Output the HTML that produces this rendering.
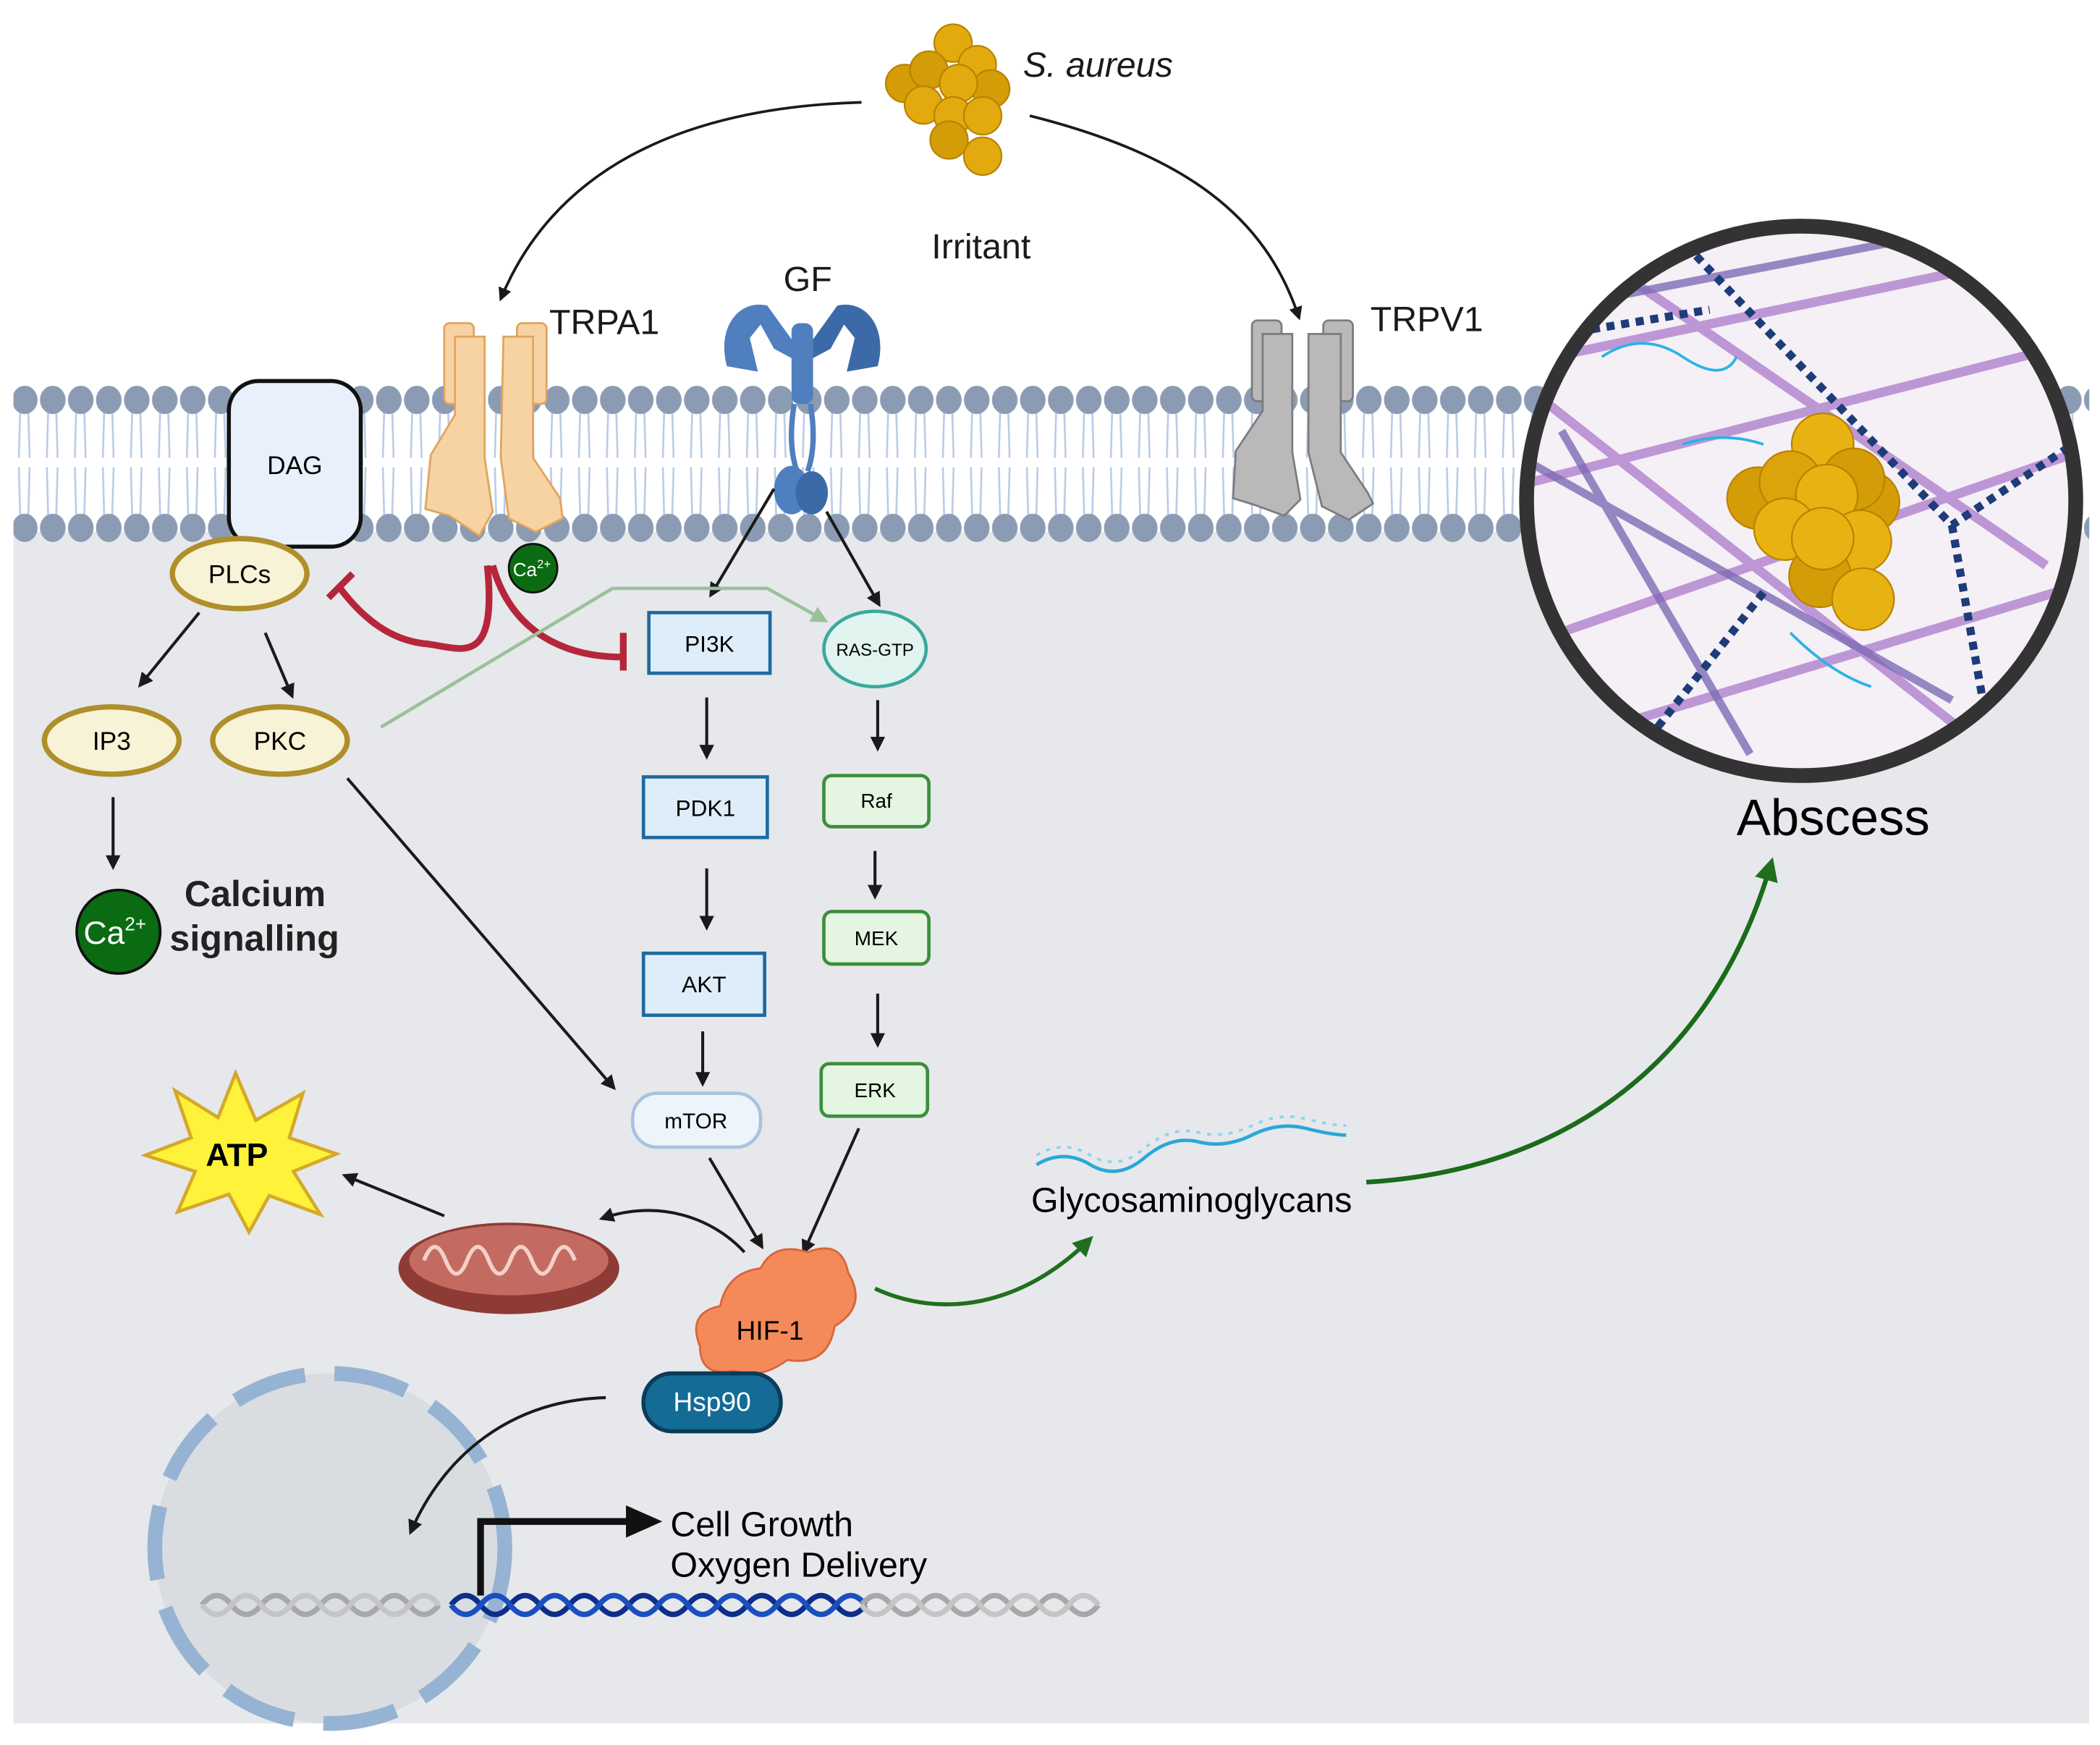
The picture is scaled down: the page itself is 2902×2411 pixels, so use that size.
<!DOCTYPE html>
<html><head><meta charset="utf-8"><style>
html,body{margin:0;padding:0;background:#fff;}
svg{display:block;}
text{font-family:"Liberation Sans",sans-serif;}
</style></head><body>
<svg width="2902" height="2411" viewBox="0 0 1560 1296" preserveAspectRatio="none" xmlns="http://www.w3.org/2000/svg">
<defs>
<marker id="ab" viewBox="0 0 10 10" refX="8" refY="5" markerWidth="5" markerHeight="5" orient="auto"><path d="M0,0L10,5L0,10z" fill="#1a1a1a"/></marker>
<marker id="ag" viewBox="0 0 10 10" refX="8" refY="5" markerWidth="5" markerHeight="5" orient="auto"><path d="M0,0L10,5L0,10z" fill="#1f6f1f"/></marker>
<marker id="alg" viewBox="0 0 10 10" refX="8" refY="5" markerWidth="5" markerHeight="5" orient="auto"><path d="M0,0L10,5L0,10z" fill="#9cbf9c"/></marker>
<pattern id="tl1" x="8" y="305" width="20.8" height="35" patternUnits="userSpaceOnUse">
<path d="M7 0 L6 35 M13 0 L14 35" stroke="#b8cce6" stroke-width="1.4" fill="none"/></pattern>
<pattern id="tl2" x="8" y="347" width="20.8" height="36" patternUnits="userSpaceOnUse">
<path d="M6 0 L7 36 M14 0 L13 36" stroke="#b8cce6" stroke-width="1.4" fill="none"/></pattern>
<pattern id="hd1" x="8" y="286" width="20.8" height="24" patternUnits="userSpaceOnUse">
<ellipse cx="10.4" cy="11" rx="9.5" ry="10.5" fill="#8a9bb3"/></pattern>
<pattern id="hd2" x="8" y="381" width="20.8" height="24" patternUnits="userSpaceOnUse">
<ellipse cx="10.4" cy="11" rx="9.5" ry="10.5" fill="#8a9bb3"/></pattern>
<clipPath id="cc"><circle cx="1338" cy="372" r="200"/></clipPath>
</defs>
<rect width="1560" height="1296" fill="#fff"/>
<rect x="10" y="395" width="1542" height="885" fill="#e6e8eb"/>
<!-- membrane -->
<rect x="10" y="290" width="1542" height="105" fill="#fff"/>
<rect x="10" y="305" width="1542" height="35" fill="url(#tl1)"/>
<rect x="10" y="347" width="1542" height="36" fill="url(#tl2)"/>
<rect x="10" y="286" width="1542" height="22" fill="url(#hd1)"/>
<rect x="10" y="381" width="1542" height="22" fill="url(#hd2)"/>

<!-- S. aureus -->
<g fill="#e3aa10" stroke="#b88300" stroke-width="1.2">
<circle cx="708" cy="32" r="14"/><circle cx="672" cy="62" r="14" fill="#d49c07"/><circle cx="690" cy="52" r="14" fill="#d49c07"/>
<circle cx="726" cy="48" r="14"/><circle cx="736" cy="66" r="14" fill="#d49c07"/><circle cx="712" cy="62" r="14"/>
<circle cx="686" cy="78" r="14"/><circle cx="708" cy="86" r="14"/><circle cx="730" cy="86" r="14"/>
<circle cx="705" cy="104" r="14" fill="#d49c07"/><circle cx="730" cy="116" r="14"/>
</g>
<text x="760" y="57" font-size="26" font-style="italic" fill="#1a1a1a">S. aureus</text>
<path d="M640 76 C500 80 410 130 372 222" stroke="#1a1a1a" stroke-width="2" fill="none" marker-end="url(#ab)"/>
<path d="M765 86 C880 115 940 160 965 236" stroke="#1a1a1a" stroke-width="2" fill="none" marker-end="url(#ab)"/>
<text x="692" y="192" font-size="26" fill="#1a1a1a">Irritant</text>
<text x="582" y="216" font-size="26" fill="#1a1a1a">GF</text>
<text x="408" y="248" font-size="26" fill="#1a1a1a">TRPA1</text>
<text x="1018" y="246" font-size="26" fill="#1a1a1a">TRPV1</text>

<!-- TRPA1 -->
<g fill="#f7d3a4" stroke="#e0a45c" stroke-width="1.5">
<rect x="330" y="240" width="22" height="60" rx="4"/><rect x="384" y="240" width="22" height="60" rx="4"/>
<path d="M338 250 h22 v90 l6 40 l-10 18 l-22 -15 l-18 -5 l4 -40 l18 -30z"/>
<path d="M374 250 h22 v90 l20 30 l2 15 l-20 10 l-20 -10 l-6 -45z"/>
</g>
<!-- TRPV1 -->
<g fill="#b9b9b9" stroke="#7d7d7d" stroke-width="1.5">
<rect x="930" y="238" width="22" height="60" rx="4"/><rect x="983" y="238" width="22" height="60" rx="4"/>
<path d="M938 248 h22 v88 l6 35 l-12 12 l-22 -8 l-16 -5 l2 -35 l20 -30z"/>
<path d="M972 248 h24 v88 l20 30 l4 8 l-18 12 l-20 -10 l-10 -40z"/>
</g>
<!-- GF receptor -->
<g fill="#4f7fbf">
<path d="M540 272 c-8 -30 10 -50 30 -45 l18 25 l2 15 l-15 -8 l-10 -18 l-8 10 l6 25z"/>
<path d="M652 272 c8 -30 -10 -50 -30 -45 l-18 25 l-2 15 l15 -8 l10 -18 l8 10 l-6 25z" fill="#3c6aa8"/>
<rect x="588" y="240" width="16" height="60" rx="6"/>
<path d="M590 300 q-5 30 2 50 M602 300 q5 30 -2 50" stroke="#4f7fbf" stroke-width="4" fill="none"/>
<ellipse cx="588" cy="364" rx="13" ry="18"/><ellipse cx="603" cy="366" rx="12" ry="16" fill="#3c6aa8"/>
</g>

<!-- DAG / PLCs -->
<rect x="170" y="283" width="98" height="123" rx="22" fill="#e8f1fb" stroke="#111" stroke-width="3"/>
<text x="219" y="352" font-size="19" text-anchor="middle">DAG</text>
<ellipse cx="178" cy="426" rx="50" ry="26" fill="#f8f3d6" stroke="#b08f2a" stroke-width="4"/>
<text x="178" y="433" font-size="19" text-anchor="middle">PLCs</text>
<ellipse cx="83" cy="550" rx="50" ry="25" fill="#f8f3d6" stroke="#b08f2a" stroke-width="4"/>
<text x="83" y="557" font-size="19" text-anchor="middle">IP3</text>
<ellipse cx="208" cy="550" rx="50" ry="25" fill="#f8f3d6" stroke="#b08f2a" stroke-width="4"/>
<text x="208" y="557" font-size="19" text-anchor="middle">PKC</text>
<g stroke="#1a1a1a" stroke-width="2.2" fill="none" marker-end="url(#ab)">
<line x1="148" y1="455" x2="104" y2="509"/><line x1="197" y1="470" x2="217" y2="517"/>
<line x1="84" y1="592" x2="84" y2="644"/>
<line x1="575" y1="363" x2="528" y2="442"/><line x1="614" y1="380" x2="653" y2="449"/>
<line x1="525" y1="518" x2="525" y2="562"/><line x1="525" y1="645" x2="525" y2="689"/><line x1="522" y1="766" x2="522" y2="805"/>
<line x1="652" y1="520" x2="652" y2="556"/><line x1="650" y1="632" x2="650" y2="666"/><line x1="652" y1="738" x2="652" y2="776"/>
<line x1="258" y1="578" x2="456" y2="808"/>
<line x1="527" y1="860" x2="566" y2="926"/><line x1="638" y1="838" x2="597" y2="930"/>
<path d="M553 930 C530 905 490 890 447 905"/>
<line x1="330" y1="903" x2="256" y2="873"/>
</g>
<circle cx="88" cy="692" r="31" fill="#0b6b12" stroke="#111" stroke-width="2"/>
<text x="62" y="701" font-size="24" fill="#fff">Ca<tspan font-size="14" dy="-10">2+</tspan></text>
<text x="137" y="673" font-size="27" font-weight="bold" fill="#222">Calcium</text>
<text x="126" y="706" font-size="27" font-weight="bold" fill="#222">signalling</text>

<!-- red inhibitors -->
<g stroke="#b5263a" stroke-width="5" fill="none">
<path d="M362 420 C370 500 340 480 315 478 C290 475 270 460 252 436"/>
<line x1="244" y1="444" x2="262" y2="426"/>
<path d="M366 420 C380 470 420 488 462 488"/>
<line x1="463" y1="470" x2="463" y2="498"/>
</g>
<circle cx="396" cy="422" r="18" fill="#0b6b12" stroke="#111" stroke-width="1.5"/>
<text x="381" y="428" font-size="14" fill="#fff">Ca<tspan font-size="9" dy="-6">2+</tspan></text>
<path d="M283 540 L455 437 L570 437 L613 461" stroke="#9cbf9c" stroke-width="2.5" fill="none" marker-end="url(#alg)"/>

<!-- PI3K chain -->
<g fill="#ddeefa" stroke="#1e6aa0" stroke-width="2.5">
<rect x="482" y="455" width="90" height="45"/><rect x="478" y="577" width="92" height="45"/><rect x="478" y="708" width="90" height="46"/>
</g>
<text x="527" y="484" font-size="17" text-anchor="middle">PI3K</text>
<text x="524" y="606" font-size="17" text-anchor="middle">PDK1</text>
<text x="523" y="737" font-size="17" text-anchor="middle">AKT</text>
<rect x="470" y="812" width="95" height="40" rx="18" fill="#eef4fb" stroke="#a8c3e0" stroke-width="2.5"/>
<text x="517" y="838" font-size="16" text-anchor="middle">mTOR</text>
<ellipse cx="650" cy="482" rx="38" ry="28" fill="#e1f4f0" stroke="#3aa99a" stroke-width="2.5"/>
<text x="650" y="487" font-size="13" text-anchor="middle">RAS-GTP</text>
<g fill="#e4f5e2" stroke="#3b8f3b" stroke-width="2.5">
<rect x="612" y="576" width="78" height="38" rx="6"/><rect x="612" y="677" width="78" height="39" rx="6"/><rect x="610" y="790" width="79" height="39" rx="6"/>
</g>
<text x="651" y="600" font-size="15" text-anchor="middle">Raf</text>
<text x="651" y="702" font-size="15" text-anchor="middle">MEK</text>
<text x="650" y="815" font-size="15" text-anchor="middle">ERK</text>

<!-- ATP star -->
<path d="M175 797 L190 832 L225 812 L215 845 L250 857 L218 870 L238 902 L200 888 L185 915 L170 887 L132 900 L145 870 L108 858 L142 845 L130 810 L162 830z" fill="#fff23a" stroke="#d6a82a" stroke-width="2.5"/>
<text x="176" y="866" font-size="24" font-weight="bold" text-anchor="middle">ATP</text>
<!-- mitochondrion -->
<ellipse cx="378" cy="942" rx="82" ry="34" fill="#8e3b35"/>
<ellipse cx="378" cy="936" rx="74" ry="26" fill="#c46b61"/>
<path d="M315 936 q8 -20 16 0 q8 20 16 0 q8 -20 16 0 q8 20 16 0 q8 -20 16 0 q8 20 16 0 q8 -20 16 0" stroke="#f3d0c8" stroke-width="3" fill="none"/>

<!-- HIF-1 -->
<path d="M520 1000 q-10 -25 15 -30 q5 -25 30 -28 q10 -20 35 -12 q25 -10 30 15 q15 25 -10 40 q-5 30 -35 25 q-20 15 -40 8 q-25 5 -25 -18z" fill="#f48a5a" stroke="#d9643a" stroke-width="1.5"/>
<text x="547" y="995" font-size="20">HIF-1</text>
<rect x="478" y="1020" width="102" height="43" rx="21" fill="#136b96" stroke="#0b3c5a" stroke-width="3"/>
<text x="529" y="1048" font-size="20" fill="#fff" text-anchor="middle">Hsp90</text>

<!-- nucleus -->
<circle cx="245" cy="1150" r="130" fill="#d9dde2" stroke="#97b3d3" stroke-width="11" stroke-dasharray="55 22"/>
<path d="M450 1038 C380 1040 330 1080 305 1138" stroke="#1a1a1a" stroke-width="2.2" fill="none" marker-end="url(#ab)"/>
<!-- DNA -->
<g fill="none" stroke-width="4">
<path d="M150 1192 q11 -14 22 0 t22 0 t22 0 t22 0 t22 0 t22 0 t22 0 t22 0" stroke="#a8a8a8"/>
<path d="M150 1192 q11 14 22 0 t22 0 t22 0 t22 0 t22 0 t22 0 t22 0 t22 0" stroke="#c5c5c5"/>
<path d="M335 1192 q11 -14 22 0 t22 0 t22 0 t22 0 t22 0 t22 0 t22 0 t22 0 t22 0 t22 0 t22 0 t22 0 t22 0 t22 0" stroke="#0e2e8a"/>
<path d="M335 1192 q11 14 22 0 t22 0 t22 0 t22 0 t22 0 t22 0 t22 0 t22 0 t22 0 t22 0 t22 0 t22 0 t22 0 t22 0" stroke="#1b4fc0"/>
<path d="M640 1192 q11 -14 22 0 t22 0 t22 0 t22 0 t22 0 t22 0 t22 0 t22 0" stroke="#a8a8a8"/>
<path d="M640 1192 q11 14 22 0 t22 0 t22 0 t22 0 t22 0 t22 0 t22 0 t22 0" stroke="#c5c5c5"/>
</g>
<path d="M357 1185 V1130 H470" stroke="#111" stroke-width="5" fill="none"/>
<path d="M465 1118 L492 1130 L465 1142z" fill="#111"/>
<text x="498" y="1141" font-size="26">Cell Growth</text>
<text x="498" y="1171" font-size="26">Oxygen Delivery</text>

<!-- GAG -->
<path d="M650 957 C700 980 760 970 810 920" stroke="#1f6f1f" stroke-width="3" fill="none" marker-end="url(#ag)"/>
<path d="M770 865 q20 -12 40 0 t40 -5 t40 -12 t40 -5 t40 -5 t30 5" stroke="#2aa7d8" stroke-width="2.5" fill="none"/>
<path d="M770 858 q20 -12 40 0 t40 -5 t40 -12 t40 -5 t40 -5 t30 5" stroke="#8fd3ee" stroke-width="2" stroke-dasharray="3 5" fill="none"/>
<text x="766" y="900" font-size="26">Glycosaminoglycans</text>
<path d="M1015 878 C1150 870 1270 800 1316 640" stroke="#1a6b1a" stroke-width="3.5" fill="none" marker-end="url(#ag)"/>
<text x="1290" y="620" font-size="38">Abscess</text>

<!-- Abscess circle -->
<circle cx="1338" cy="372" r="204" fill="#f5eff6"/>
<g clip-path="url(#cc)" fill="none">
<g stroke="#b488d0" stroke-width="7" opacity="0.85">
<path d="M1130 270 L1560 180"/><path d="M1130 360 L1560 250"/><path d="M1130 480 L1560 330"/><path d="M1130 560 L1560 430"/>
<path d="M1200 200 L1520 420"/><path d="M1150 300 L1480 560"/>
</g>
<g stroke="#7e6bb5" stroke-width="6" opacity="0.8">
<path d="M1160 320 L1300 560"/><path d="M1200 220 L1560 150"/><path d="M1130 340 L1450 520"/>
</g>
<g stroke="#1d3c78" stroke-width="6" stroke-dasharray="6 5">
<path d="M1260 190 L1450 390 L1540 330"/><path d="M1450 390 L1480 560"/><path d="M1310 440 L1200 580"/><path d="M1150 250 L1270 230"/>
</g>
<g stroke="#29b3e6" stroke-width="2">
<path d="M1190 265 q30 -20 60 0 t40 0"/><path d="M1250 330 q30 -10 60 0"/><path d="M1330 470 q30 30 60 40"/>
</g>
</g>
<circle cx="1338" cy="372" r="204" fill="none" stroke="#333" stroke-width="11"/>
<g fill="#e8b312" stroke="#b88300" stroke-width="1.2">
<circle cx="1306" cy="370" r="23" fill="#d49c07"/><circle cx="1388" cy="373" r="23" fill="#d49c07"/>
<circle cx="1354" cy="330" r="23"/><circle cx="1377" cy="356" r="23" fill="#d49c07"/>
<circle cx="1330" cy="358" r="23" fill="#dca30a"/><circle cx="1357" cy="368" r="23"/>
<circle cx="1326" cy="393" r="23"/><circle cx="1382" cy="402" r="23"/>
<circle cx="1352" cy="428" r="23" fill="#d49c07"/><circle cx="1354" cy="400" r="23"/>
<circle cx="1384" cy="445" r="23"/>
</g>
</svg>
</body></html>
